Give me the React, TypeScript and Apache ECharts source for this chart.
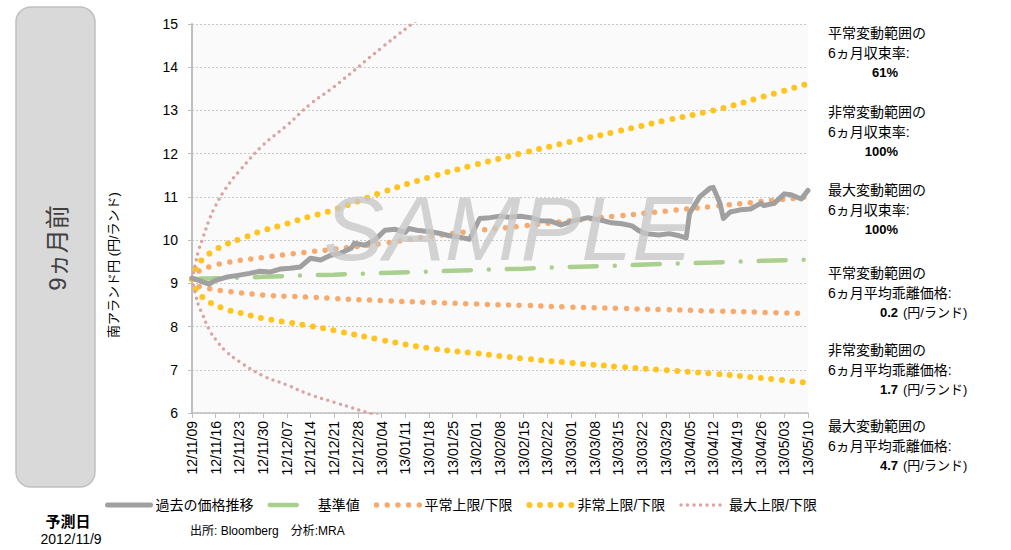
import React, { useEffect, useRef } from "react";
import * as echarts from "echarts";

// ---- tick labels ----
const xTickLabels = [
  "12/11/09", "12/11/16", "12/11/23", "12/11/30", "12/12/07", "12/12/14", "12/12/21", "12/12/28",
  "13/01/04", "13/01/11", "13/01/18", "13/01/25", "13/02/01", "13/02/08", "13/02/15", "13/02/22",
  "13/03/01", "13/03/08", "13/03/15", "13/03/22", "13/03/29", "13/04/05", "13/04/12", "13/04/19",
  "13/04/26", "13/05/03", "13/05/10",
];

// ---- price history (days since 2012/11/09) ----
const priceDays = [
  0, 2, 5, 7, 10, 14, 17, 20, 23, 26, 29, 32, 35, 38, 41, 44, 47, 48, 51, 54, 57, 60, 63, 64, 67,
  70, 73, 76, 79, 82, 85, 88, 91, 94, 97, 100, 103, 106, 109, 113, 117, 121, 124, 127, 130, 132,
  134, 138, 141, 144, 146, 147, 150, 153, 154, 156, 157, 159, 162, 165, 168, 169, 172, 175, 177, 180, 182,
];
const priceValues = [
  9.12, 9.07, 8.98, 9.07, 9.14, 9.19, 9.23, 9.28, 9.26, 9.33, 9.35, 9.38, 9.58, 9.54, 9.65, 9.7,
  9.81, 9.93, 9.88, 10.0, 10.23, 10.25, 10.18, 10.27, 10.22, 10.2, 10.16, 10.1, 10.07, 10.02, 10.5,
  10.52, 10.55, 10.53, 10.55, 10.52, 10.45, 10.44, 10.35, 10.45, 10.52, 10.46, 10.4, 10.38, 10.33,
  10.22, 10.15, 10.12, 10.15, 10.1, 10.05, 10.62, 11.0, 11.2, 11.22, 10.85, 10.5, 10.65, 10.7, 10.72,
  10.85, 10.8, 10.85, 11.07, 11.05, 10.95, 11.15,
];

// ---- forecast bands (days since 2012/11/09) ----
const bandDays = [0, 1, 2, 3, 5, 7, 10, 14, 21, 28, 35, 42, 56, 70, 84, 98, 112, 126, 140, 154, 168, 182];
const baseValues = [9.1, 9.1, 9.1, 9.11, 9.11, 9.12, 9.12, 9.13, 9.15, 9.17, 9.19, 9.2, 9.24, 9.27, 9.31, 9.34, 9.38, 9.41, 9.45, 9.48, 9.52, 9.55];
const normalUpper = [9.1, 9.22, 9.28, 9.32, 9.38, 9.43, 9.48, 9.53, 9.6, 9.67, 9.73, 9.79, 9.92, 10.08, 10.22, 10.33, 10.45, 10.56, 10.67, 10.78, 10.89, 11.0];
const normalLower = [9.1, 8.98, 8.93, 8.9, 8.88, 8.85, 8.82, 8.78, 8.73, 8.7, 8.68, 8.65, 8.6, 8.56, 8.52, 8.49, 8.45, 8.42, 8.39, 8.36, 8.33, 8.3];
const abnormalUpper = [9.1, 9.32, 9.45, 9.55, 9.68, 9.78, 9.9, 10.02, 10.22, 10.38, 10.55, 10.7, 11.1, 11.45, 11.75, 12.02, 12.28, 12.52, 12.77, 13.0, 13.3, 13.62];
const abnormalLower = [9.1, 8.89, 8.76, 8.69, 8.57, 8.5, 8.4, 8.32, 8.19, 8.1, 8.01, 7.91, 7.69, 7.5, 7.38, 7.26, 7.16, 7.07, 6.99, 6.91, 6.81, 6.7];
const maxUpper = [9.1, 9.45, 9.78, 10.0, 10.45, 10.8, 11.2, 11.6, 12.2, 12.65, 13.15, 13.55, 14.45, 15.3, 16.1, null, null, null, null, null, null, null];
const maxLower = [9.1, 8.76, 8.47, 8.3, 7.94, 7.7, 7.43, 7.19, 6.86, 6.65, 6.42, 6.25, 5.91, 5.6, null, null, null, null, null, null, null, null];

// ---- legend names ----
const seriesNames = ["過去の価格推移", "基準値", "平常上限/下限", "非常上限/下限", "最大上限/下限"];

// ---- right-hand annotations ----
const annotTitles = ["平常変動範囲の", "非常変動範囲の", "最大変動範囲の", "平常変動範囲の", "非常変動範囲の", "最大変動範囲の"];
const annotSubs = ["6ヵ月収束率:", "6ヵ月収束率:", "6ヵ月収束率:", "6ヵ月平均乖離価格:", "6ヵ月平均乖離価格:", "6ヵ月平均乖離価格:"];
const annotValues = ["61%", "100%", "100%", "0.2", "1.7", "4.7"];
const annotUnits = ["", "", "", "(円/ランド)", "(円/ランド)", "(円/ランド)"];
const annotTops = [33, 112, 190, 273, 350, 426];

const FONT = "'Liberation Sans', 'Noto Sans CJK JP', sans-serif";

function pairs(days: number[], vals: (number | null)[]) {
  return days.map((d, i) => [d, vals[i]]);
}

export default function App() {
  const ref = useRef<HTMLDivElement>(null);

  useEffect(() => {
    if (!ref.current) return;
    const chart = echarts.init(ref.current, null, { renderer: "svg" });

    const gray = "#a0a0a0";
    const green = "#a9d08e";
    const orange = "#f7aa6e";
    const yellow = "#ffc41f";
    const pink = "#dca3a3";
    const widths = [5, 4.5, 5.5, 6, 3.5];

    const dotted = (color: string, width: number, gap: number, name: string, data: any[], z: number) => ({
      type: "line",
      name,
      data,
      smooth: 0.4,
      symbol: "none",
      z,
      lineStyle: { color, width, type: [0, gap], cap: "round" },
      itemStyle: { color },
    });

    const graphics: any[] = [
      {
        type: "rect",
        shape: { x: 16, y: 7, width: 79, height: 480, r: 15 },
        style: { fill: "#d9d9d9", stroke: "#c0c0c0", lineWidth: 1.5 },
      },
      {
        type: "text",
        x: 57,
        y: 248,
        rotation: Math.PI / 2,
        style: { text: "9ヵ月前", fontSize: 24, fontFamily: FONT, fill: "#404040", align: "center", verticalAlign: "middle" },
      },
      {
        type: "text",
        x: 113,
        y: 265,
        rotation: Math.PI / 2,
        style: { text: "南アランド円 (円/ランド)", fontSize: 13, fontFamily: FONT, fill: "#000", align: "center", verticalAlign: "middle" },
      },
      {
        type: "text",
        x: 68,
        y: 521,
        style: { text: "予測日", fontSize: 15, fontWeight: "bold", fontFamily: FONT, fill: "#000", align: "center", verticalAlign: "middle" },
      },
      {
        type: "text",
        x: 71,
        y: 539,
        style: { text: "2012/11/9", fontSize: 14, fontFamily: FONT, fill: "#000", align: "center", verticalAlign: "middle" },
      },
      {
        type: "text",
        x: 190,
        y: 531,
        style: { text: "出所: Bloomberg　分析:MRA", fontSize: 12, fontFamily: FONT, fill: "#000", align: "left", verticalAlign: "middle" },
      },
      {
        type: "text",
        x: 508,
        y: 228,
        z: 100,
        style: {
          text: "SAMPLE",
          fontSize: 91,
          fontStyle: "italic",
          fontFamily: "'Liberation Sans', sans-serif",
          fill: "rgba(200,200,200,0.8)",
          align: "center",
          verticalAlign: "middle",
        },
      },
    ];

    annotTitles.forEach((t, i) => {
      const y0 = annotTops[i];
      graphics.push({
        type: "text",
        x: 828,
        y: y0,
        style: { text: t, fontSize: 14, fontFamily: FONT, fill: "#000", align: "left", verticalAlign: "middle" },
      });
      graphics.push({
        type: "text",
        x: 828,
        y: y0 + 20,
        style: { text: annotSubs[i], fontSize: 14, fontFamily: FONT, fill: "#000", align: "left", verticalAlign: "middle" },
      });
      graphics.push({
        type: "text",
        x: 898,
        y: y0 + 39,
        style: { text: annotValues[i], fontSize: 13, fontWeight: "bold", fontFamily: FONT, fill: "#000", align: "right", verticalAlign: "middle" },
      });
      if (annotUnits[i]) {
        graphics.push({
          type: "text",
          x: 903,
          y: y0 + 39,
          style: { text: annotUnits[i], fontSize: 13, fontFamily: FONT, fill: "#000", align: "left", verticalAlign: "middle" },
        });
      }
    });

    const option: any = {
      animation: false,
      backgroundColor: "#ffffff",
      textStyle: { fontFamily: FONT },
      grid: {
        left: 192,
        top: 24,
        width: 616,
        height: 389,
        show: true,
        backgroundColor: "#fafafa",
        borderWidth: 0,
      },
      legend: {
        left: 100,
        top: 493,
        itemWidth: 43,
        itemHeight: 14,
        itemGap: 14,
        data: seriesNames.map((n, i) => ({ name: n, lineStyle: { width: widths[i] } })),
        itemStyle: { opacity: 0 },
        textStyle: { fontSize: 14, color: "#000", fontFamily: FONT },
      },
      xAxis: {
        type: "value",
        min: 0,
        max: 182,
        interval: 7,
        axisLine: { show: true, lineStyle: { color: "#bfbfbf", width: 1.5 } },
        axisTick: { show: true, length: 5, lineStyle: { color: "#bfbfbf" } },
        splitLine: { show: false },
        axisLabel: {
          rotate: 90,
          margin: 8,
          fontSize: 14,
          color: "#000",
          fontFamily: FONT,
          formatter: (v: number) => xTickLabels[Math.round(v / 7)] ?? "",
        },
      },
      yAxis: {
        type: "value",
        min: 6,
        max: 15,
        interval: 1,
        axisLine: { show: true, lineStyle: { color: "#bfbfbf", width: 2 } },
        axisTick: { show: true, length: 4, lineStyle: { color: "#bfbfbf" } },
        splitLine: { show: true, lineStyle: { color: "#c8c8c8", width: 1, type: [2, 2] } },
        axisLabel: { fontSize: 14, color: "#000", margin: 14, fontFamily: FONT },
      },
      graphic: graphics,
      series: [
        {
          type: "line",
          name: seriesNames[0],
          data: pairs(priceDays, priceValues),
          symbol: "none",
          z: 6,
          lineStyle: { color: gray, width: widths[0], join: "round", cap: "round" },
          itemStyle: { color: gray },
        },
        {
          type: "line",
          name: seriesNames[1],
          data: pairs(bandDays, baseValues),
          symbol: "none",
          z: 3,
          lineStyle: { color: green, width: widths[1], type: [27, 18, 0, 18], cap: "round" },
          itemStyle: { color: green },
        },
        dotted(orange, widths[2], 10.7, seriesNames[2], pairs(bandDays, normalUpper), 4),
        dotted(orange, widths[2], 10.7, seriesNames[2], pairs(bandDays, normalLower), 4),
        dotted(yellow, widths[3], 10.5, seriesNames[3], pairs(bandDays, abnormalUpper), 4),
        dotted(yellow, widths[3], 10.5, seriesNames[3], pairs(bandDays, abnormalLower), 4),
        dotted(pink, widths[4], 6.5, seriesNames[4], pairs(bandDays, maxUpper), 4),
        dotted(pink, widths[4], 6.5, seriesNames[4], pairs(bandDays, maxLower), 4),
      ],
    };

    chart.setOption(option);
    return () => chart.dispose();
  }, []);

  return (
    <div
      ref={ref}
      style={{ position: "absolute", left: 0, top: 0, width: 1011, height: 550, background: "#fff" }}
    />
  );
}
